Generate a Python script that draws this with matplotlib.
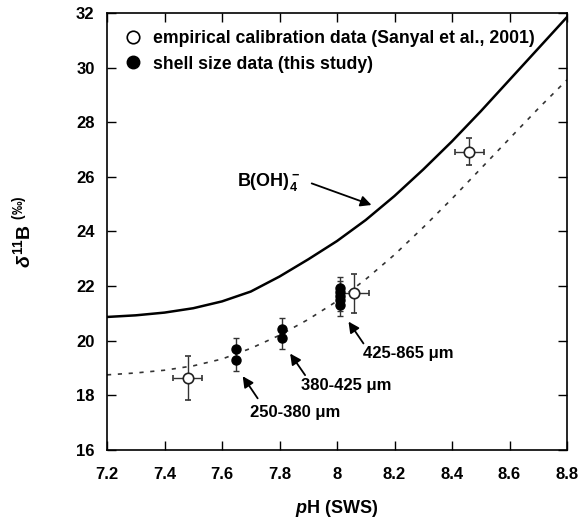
import matplotlib
matplotlib.use("Agg")
import matplotlib.pyplot as plt
from matplotlib.lines import Line2D

plt.rcParams['font.family'] = ['Liberation Sans', 'DejaVu Sans']
plt.rcParams['mathtext.fontset'] = 'custom'
plt.rcParams['mathtext.rm'] = 'Liberation Sans:bold'
plt.rcParams['mathtext.bf'] = 'Liberation Sans:bold'
plt.rcParams['mathtext.it'] = 'Liberation Sans:italic:bold'

# theoretical borate curve and calibration curve
curve_ph = [7.2, 7.3, 7.4, 7.5, 7.6, 7.7, 7.8, 7.9, 8.0, 8.1, 8.2, 8.3, 8.4, 8.5, 8.6, 8.7, 8.8]
borate_d11b = [20.87, 20.93, 21.03, 21.19, 21.44, 21.80, 22.35, 22.98, 23.65,
               24.42, 25.30, 26.27, 27.30, 28.40, 29.55, 30.70, 31.85]
calib_d11b = [18.75, 18.82, 18.92, 19.08, 19.33, 19.72, 20.20, 20.78, 21.45,
              22.25, 23.15, 24.15, 25.20, 26.30, 27.40, 28.50, 29.55]

# empirical calibration data (Sanyal et al., 2001)
emp_ph = [7.48, 8.06, 8.46]
emp_d11b = [18.63, 21.73, 26.92]
emp_ph_err = [0.05, 0.05, 0.05]
emp_d11b_err = [0.8, 0.7, 0.5]

# shell size data (this study)
shell_ph = [7.65, 7.65, 7.81, 7.81, 8.01, 8.01, 8.01, 8.01, 8.01]
shell_d11b = [19.69, 19.30, 20.42, 20.09, 21.92, 21.80, 21.62, 21.50, 21.32]
shell_d11b_err = [0.4, 0.4, 0.4, 0.4, 0.4, 0.4, 0.4, 0.4, 0.4]

fig = plt.figure(figsize=(5.81, 5.25), dpi=100)
ax = fig.add_axes([0.1842, 0.1429, 0.7917, 0.8324])

ax.plot(curve_ph, borate_d11b, color='black', lw=1.8)
ax.plot(curve_ph, calib_d11b, color='#333333', lw=1.2, linestyle=(0, (2.5, 4)))

ax.errorbar(emp_ph, emp_d11b, xerr=emp_ph_err, yerr=emp_d11b_err, fmt='o',
            mfc='white', mec='#222222', ms=7.5, mew=1.2, ecolor='#333333',
            elinewidth=1, capsize=2.5, capthick=1, zorder=3)
ax.errorbar(shell_ph, shell_d11b, yerr=shell_d11b_err, fmt='o',
            mfc='black', mec='black', ms=6.5, ecolor='#333333',
            elinewidth=1, capsize=2.5, capthick=1, zorder=4)

ax.set_xlim(7.2, 8.8)
ax.set_ylim(16, 32)
ax.set_xticks([7.2, 7.4, 7.6, 7.8, 8.0, 8.2, 8.4, 8.6, 8.8])
ax.set_xticklabels(['7.2', '7.4', '7.6', '7.8', '8', '8.2', '8.4', '8.6', '8.8'])
ax.set_yticks(range(16, 33, 2))
ax.tick_params(direction='in', length=6.5, width=1, top=True, right=True,
               labelsize=12, pad=9)
ax.tick_params(axis='x', pad=12)
for lab in ax.get_xticklabels() + ax.get_yticklabels():
    lab.set_fontweight('bold')
for sp in ax.spines.values():
    sp.set_linewidth(1.2)

ax.set_xlabel(r'$\mathit{p}$H (SWS)', fontsize=13, fontweight='bold', labelpad=12)
ax.set_ylabel(r'$\mathit{\delta}^{11}$B $^{(‰)}$', fontsize=14, fontweight='bold', labelpad=30)

# arrows (tail -> head) and their labels
arrow = dict(arrowstyle='-|>', color='black', lw=1.3, mutation_scale=16,
             shrinkA=0, shrinkB=0)
ax.annotate('', xy=(8.12, 24.97), xytext=(7.912, 25.76), arrowprops=arrow)
ax.annotate('', xy=(8.04, 20.7), xytext=(8.092, 19.9), arrowprops=arrow)
ax.annotate('', xy=(7.837, 19.53), xytext=(7.889, 18.74), arrowprops=arrow)
ax.annotate('', xy=(7.672, 18.70), xytext=(7.724, 17.89), arrowprops=arrow)

ax.text(7.651, 25.8, r'B(OH)$_4^{\bf -}$', fontsize=13, fontweight='bold',
        va='center', ha='left')
ax.text(8.09, 19.53, '425-865 μm', fontsize=12, fontweight='bold', va='center', ha='left')
ax.text(7.874, 18.35, '380-425 μm', fontsize=12, fontweight='bold', va='center', ha='left')
ax.text(7.697, 17.36, '250-380 μm', fontsize=12, fontweight='bold', va='center', ha='left')

handles = [Line2D([], [], ls='none', marker='o', mfc='white', mec='black', ms=9, mew=1.2),
           Line2D([], [], ls='none', marker='o', mfc='black', mec='black', ms=9)]
ax.legend(handles, ['empirical calibration data (Sanyal et al., 2001)',
                    'shell size data (this study)'],
          loc='upper left', bbox_to_anchor=(0.0, 0.99), frameon=False,
          prop={'weight': 'bold', 'size': 12.7}, handletextpad=0.3,
          labelspacing=0.5, borderaxespad=0.3, handlelength=1.6)

fig.savefig('out.png', dpi=100)
